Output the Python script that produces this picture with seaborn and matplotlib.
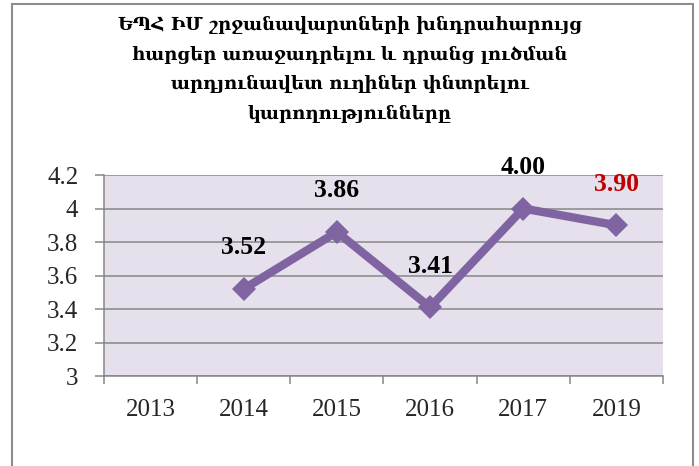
import matplotlib
matplotlib.use('Agg')
import matplotlib.pyplot as plt
import seaborn as sns
import numpy as np
import pandas as pd
from matplotlib.patches import Rectangle

title_lines = [
    'ԵՊՀ ԻՄ շրջանավարտների խնդրահարույց',
    'հարցեր առաջադրելու և դրանց լուծման',
    'արդյունավետ ուղիներ փնտրելու',
    'կարողությունները',
]
years = ['2013', '2014', '2015', '2016', '2017', '2019']
scores = [np.nan, 3.52, 3.86, 3.41, 4.00, 3.90]
value_labels = ['', '3.52', '3.86', '3.41', '4.00', '3.90']
label_colors = ['black', 'black', 'black', 'black', 'black', '#C00000']
y_ticks = [3, 3.2, 3.4, 3.6, 3.8, 4, 4.2]
y_tick_labels = ['3', '3.2', '3.4', '3.6', '3.8', '4', '4.2']

sns.set_theme(style='white')
plt.rcParams['font.family'] = ['Liberation Serif', 'DejaVu Serif']

W, H = 699, 466
fig = plt.figure(figsize=(W / 100, H / 100), dpi=100)
ax = fig.add_axes([104 / W, 90 / H, 559 / W, 201 / H])
ax.set_facecolor('#E5E0EC')

df = pd.DataFrame({'year': years, 'score': scores, 'pos': np.arange(len(years))})
sns.lineplot(data=df.dropna(), x='pos', y='score', ax=ax, color='#8064A2',
             lw=6, marker='D', markersize=12.5, markeredgewidth=0, zorder=3)

for p, v, t, c in zip(df['pos'], df['score'], value_labels, label_colors):
    if not np.isnan(v):
        ax.annotate(t, (p, v), xytext=(0, 29.5), textcoords='offset points',
                    ha='center', va='center', fontsize=18.5, fontweight='bold',
                    color=c, annotation_clip=False)

ax.set_xlim(-0.5, len(years) - 0.5)
ax.set_ylim(3, 4.2)
ax.set_xticks(df['pos'])
ax.set_xticklabels(years, fontsize=18)
ax.set_xticks(np.arange(-0.5, len(years)), minor=True)
ax.tick_params(axis='x', which='major', length=0, pad=16.5)
ax.tick_params(axis='x', which='minor', length=6, width=1.1, color='#868686',
               direction='out', bottom=True)
ax.set_yticks(y_ticks)
ax.set_yticklabels(y_tick_labels, fontsize=18)
ax.tick_params(axis='y', length=6.5, width=1.1, color='#868686', direction='out',
               pad=12, left=True)
ax.yaxis.grid(True, color='#868686', lw=1.1)
ax.xaxis.grid(False)
ax.set_xlabel('')
ax.set_ylabel('')
for s in ['top', 'right']:
    ax.spines[s].set_visible(False)
for s in ['left', 'bottom']:
    ax.spines[s].set_color('#868686')
    ax.spines[s].set_linewidth(1.1)

centers = [25, 55, 84, 114]
for line, cy in zip(title_lines, centers):
    fig.text(350 / W, 1 - cy / H, line, ha='center', va='center',
             fontsize=13, fontweight='bold', color='black',
             family=['DejaVu Serif', 'Liberation Serif'])

fig.add_artist(Rectangle((12 / W, -0.05), (693 - 12) / W, 1 - 4 / H + 0.05,
                         transform=fig.transFigure, fill=False,
                         edgecolor='#8C8C8C', lw=1.5))

fig.savefig('out.png', dpi=100)
